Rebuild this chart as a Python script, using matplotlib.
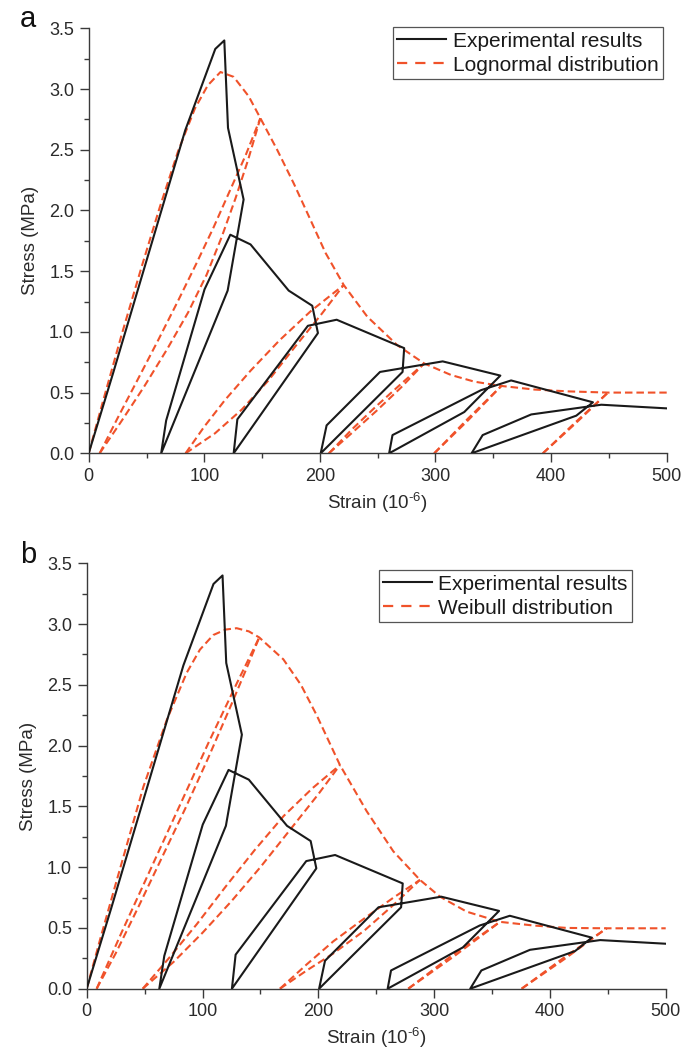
import matplotlib
matplotlib.use("Agg")
import matplotlib.pyplot as plt
from matplotlib.lines import Line2D
from matplotlib.ticker import MultipleLocator, FormatStrFormatter

plt.rcParams['font.family'] = ['Liberation Sans', 'DejaVu Sans']
plt.rcParams['mathtext.fontset'] = 'custom'
plt.rcParams['mathtext.rm'] = 'Liberation Sans'
plt.rcParams['mathtext.it'] = 'Liberation Sans:italic'

# ---------------- experimental cyclic loading curve ----------------
exp_strain = [0, 21.1, 83.5, 109.5, 117.3, 120.5, 134, 120.2, 62.7, 67, 100.2,
              122.5, 140, 173, 193.4, 198.3, 125.4, 128.6, 189.6, 214.5, 272.9,
              271.5, 200.7, 205.8, 252, 306.2, 356.1, 324.9, 259.9, 262.8, 339.4,
              365.4, 436.2, 421.8, 331.2, 340.8, 382.8, 443.4, 500]
exp_stress = [0, 0.66, 2.66, 3.33, 3.40, 2.68, 2.09, 1.34, 0, 0.27, 1.35,
              1.80, 1.72, 1.34, 1.215, 0.99, 0, 0.28, 1.05, 1.10, 0.866,
              0.67, 0, 0.23, 0.67, 0.757, 0.64, 0.34, 0, 0.15, 0.52,
              0.60, 0.42, 0.31, 0, 0.15, 0.32, 0.40, 0.37]

# ---------------- lognormal model: envelope ----------------
logn_env_x = [0, 12.4, 28.3, 45.6, 61.6, 77.4, 91.9, 103, 114, 125.4, 138.4,
              148.5, 163, 177.5, 191, 204.9, 220.6, 241, 267, 290.2, 313.4,
              333.6, 356.7, 385.6, 414.6, 449.2, 500]
logn_env_y = [0, 0.43, 0.97, 1.53, 2.03, 2.49, 2.84, 3.03, 3.14, 3.10, 2.94,
              2.76, 2.50, 2.22, 1.94, 1.65, 1.386, 1.125, 0.89, 0.74, 0.645,
              0.59, 0.555, 0.525, 0.51, 0.50, 0.50]

# lognormal model: unloading / reloading branches
logn_l1_up_x = [9.5, 25, 42, 60, 77, 93, 108, 122, 136, 148.5]
logn_l1_up_y = [0, 0.29, 0.60, 0.93, 1.25, 1.56, 1.86, 2.16, 2.46, 2.76]
logn_l1_lo_x = [9.5, 28, 48, 68, 86, 102, 115, 127, 138, 148.5]
logn_l1_lo_y = [0, 0.26, 0.55, 0.86, 1.16, 1.47, 1.78, 2.10, 2.42, 2.76]
logn_l2_up_x = [83.8, 100, 118, 140, 165, 192, 220.6]
logn_l2_up_y = [0, 0.22, 0.44, 0.68, 0.93, 1.17, 1.386]
logn_l2_lo_x = [83.8, 109.3, 132.4, 155.5, 178.7, 201.7, 220.6]
logn_l2_lo_y = [0, 0.165, 0.36, 0.60, 0.88, 1.15, 1.386]
logn_l3_up_x = [207.8, 228, 249, 270, 290.2]
logn_l3_up_y = [0, 0.20, 0.39, 0.57, 0.74]
logn_l3_lo_x = [207.8, 228, 249, 270, 290.2]
logn_l3_lo_y = [0, 0.17, 0.35, 0.54, 0.74]
logn_l4_up_x = [298.9, 328, 357]
logn_l4_up_y = [0, 0.285, 0.555]
logn_l4_lo_x = [298.9, 328, 357]
logn_l4_lo_y = [0, 0.27, 0.555]
logn_l5_up_x = [392.9, 421, 449.2]
logn_l5_up_y = [0, 0.255, 0.50]
logn_l5_lo_x = [392.9, 421, 449.2]
logn_l5_lo_y = [0, 0.245, 0.50]

# ---------------- Weibull model: envelope ----------------
weib_env_x = [0, 12, 25, 48.9, 69.1, 86.4, 97.8, 109.3, 120, 129.5, 140, 149,
              169.8, 185, 198.6, 218.7, 241.8, 264.8, 287.8, 305.1, 328.1,
              356.9, 385.7, 414.5, 449, 500]
weib_env_y = [0, 0.42, 0.86, 1.66, 2.21, 2.60, 2.79, 2.91, 2.955, 2.966, 2.94,
              2.89, 2.71, 2.50, 2.25, 1.84, 1.46, 1.13, 0.895, 0.757, 0.634,
              0.55, 0.52, 0.50, 0.497, 0.497]

# Weibull model: unloading / reloading branches
weib_l1_up_x = [8.6, 30, 55, 80, 105, 130, 149]
weib_l1_up_y = [0, 0.46, 0.98, 1.50, 2.02, 2.52, 2.89]
weib_l1_lo_x = [8.6, 25, 45, 65, 85, 105, 125, 140, 149]
weib_l1_lo_y = [0, 0.29, 0.68, 1.08, 1.48, 1.90, 2.34, 2.68, 2.89]
weib_l2_up_x = [48.4, 70, 95, 120, 145, 170, 195, 218.7]
weib_l2_up_y = [0, 0.24, 0.53, 0.84, 1.14, 1.42, 1.65, 1.84]
weib_l2_lo_x = [48.4, 75, 100, 125, 150, 175, 200, 218.7]
weib_l2_lo_y = [0, 0.22, 0.46, 0.72, 1.00, 1.30, 1.60, 1.84]
weib_l3_up_x = [166.9, 190, 213, 240, 265, 287.8]
weib_l3_up_y = [0, 0.20, 0.39, 0.58, 0.75, 0.895]
weib_l3_lo_x = [166.9, 190, 213, 240, 265, 287.8]
weib_l3_lo_y = [0, 0.15, 0.29, 0.48, 0.69, 0.895]
weib_l4_up_x = [277.7, 317, 356.9]
weib_l4_up_y = [0, 0.285, 0.55]
weib_l4_lo_x = [277.7, 317, 356.9]
weib_l4_lo_y = [0, 0.265, 0.55]
weib_l5_up_x = [375.6, 412, 449]
weib_l5_up_y = [0, 0.255, 0.497]
weib_l5_lo_x = [375.6, 412, 449]
weib_l5_lo_y = [0, 0.24, 0.497]

panel_letters = ['a', 'b']
legend_labels_a = ['Experimental results', 'Lognormal distribution']
legend_labels_b = ['Experimental results', 'Weibull distribution']
x_ticks = [0, 100, 200, 300, 400, 500]
y_ticks = [0.0, 0.5, 1.0, 1.5, 2.0, 2.5, 3.0, 3.5]

RED = '#F0522A'
DARK = '#3a3a3a'
DASH = (3.6, 1.9)

fig = plt.figure(figsize=(6.97, 10.53), dpi=100)


def style_axes(ax):
    ax.set_xlim(0, 500)
    ax.set_ylim(0, 3.5)
    ax.set_xticks(x_ticks)
    ax.set_yticks(y_ticks)
    ax.xaxis.set_minor_locator(MultipleLocator(50))
    ax.yaxis.set_minor_locator(MultipleLocator(0.25))
    ax.yaxis.set_major_formatter(FormatStrFormatter('%.1f'))
    for s in ('top', 'right'):
        ax.spines[s].set_visible(False)
    for s in ('left', 'bottom'):
        ax.spines[s].set_color(DARK)
        ax.spines[s].set_linewidth(1.0)
    ax.tick_params(which='major', direction='out', length=6.5, width=1.0,
                   color=DARK, labelsize=13, labelcolor='#2a2a2a', pad=4)
    ax.tick_params(which='minor', direction='out', length=3.6, width=1.0,
                   color=DARK)
    ax.set_xlabel(r'Strain (10$^{\text{-6}}$)', fontsize=13.5, color='#2a2a2a',
                  labelpad=4)
    ax.set_ylabel('Stress (MPa)', fontsize=13.5, color='#2a2a2a', labelpad=7)


def draw_panel(ax, env_x, env_y, loops, labels, legend_xy):
    ax.plot(exp_strain, exp_stress, color='#1a1a1a', lw=1.5, zorder=3)
    ax.plot(env_x, env_y, color=RED, lw=1.5, dashes=DASH, zorder=2)
    for lx, ly in loops:
        ax.plot(lx, ly, color=RED, lw=1.5, dashes=DASH, zorder=2)
    handles = [Line2D([], [], color='#1a1a1a', lw=1.5),
               Line2D([], [], color=RED, lw=1.6, dashes=(4.6, 3.6))]
    leg = ax.legend(handles, labels, loc='upper left', bbox_to_anchor=legend_xy,
                    frameon=True, fancybox=False, fontsize=15,
                    handlelength=2.35, handletextpad=0.3, labelspacing=0.24,
                    borderpad=0.22, borderaxespad=0.0)
    leg.get_frame().set_edgecolor('#2a2a2a')
    leg.get_frame().set_linewidth(0.9)
    for t in leg.get_texts():
        t.set_color('#1a1a1a')
    style_axes(ax)


ax_a = fig.add_axes([88.7 / 697, 1 - 453.3 / 1053, 578 / 697, 425 / 1053])
loops_a = [(logn_l1_up_x, logn_l1_up_y), (logn_l1_lo_x, logn_l1_lo_y),
           (logn_l2_up_x, logn_l2_up_y), (logn_l2_lo_x, logn_l2_lo_y),
           (logn_l3_up_x, logn_l3_up_y), (logn_l3_lo_x, logn_l3_lo_y),
           (logn_l4_up_x, logn_l4_up_y), (logn_l4_lo_x, logn_l4_lo_y),
           (logn_l5_up_x, logn_l5_up_y), (logn_l5_lo_x, logn_l5_lo_y)]
draw_panel(ax_a, logn_env_x, logn_env_y, loops_a, legend_labels_a, (0.526, 1.003))

ax_b = fig.add_axes([86.7 / 697, 1 - 988.7 / 1053, 579 / 697, 425.4 / 1053])
loops_b = [(weib_l1_up_x, weib_l1_up_y), (weib_l1_lo_x, weib_l1_lo_y),
           (weib_l2_up_x, weib_l2_up_y), (weib_l2_lo_x, weib_l2_lo_y),
           (weib_l3_up_x, weib_l3_up_y), (weib_l3_lo_x, weib_l3_lo_y),
           (weib_l4_up_x, weib_l4_up_y), (weib_l4_lo_x, weib_l4_lo_y),
           (weib_l5_up_x, weib_l5_up_y), (weib_l5_lo_x, weib_l5_lo_y)]
draw_panel(ax_b, weib_env_x, weib_env_y, loops_b, legend_labels_b, (0.504, 0.984))

fig.text(20 / 697, 1 - 26.7 / 1053, panel_letters[0], fontsize=21, va='baseline',
         ha='left', color='#111111')
fig.text(20 / 697, 1 - 563.3 / 1053, panel_letters[1], fontsize=21, va='baseline',
         ha='left', color='#111111')

fig.savefig('out.png', dpi=100)
